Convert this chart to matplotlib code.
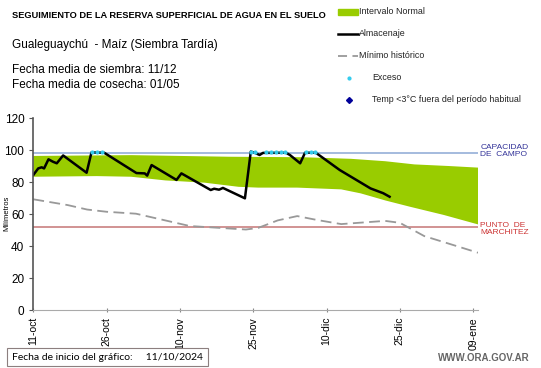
import matplotlib.pyplot as plt
from matplotlib.lines import Line2D
from matplotlib.patches import Rectangle

plt.rcParams['font.family'] = ['Liberation Sans', 'DejaVu Sans']

# datos (dias desde 11/10/2024)
band_upper_days = [0, 20, 40, 55, 65, 72, 78, 85, 91]
band_upper = [96.3, 96.8, 95.8, 95.5, 94.5, 93, 91, 90, 89]
band_lower_days = [0, 13, 20, 27, 35, 42, 46, 54, 63, 67, 72, 77, 84, 91]
band_lower = [83.3, 83.7, 83.3, 81, 79.6, 77, 76.5, 76.5, 75.4, 72.9, 68.5, 64.6, 59.4, 53.5]

alm_days = [0, 1, 1.7, 2.2, 3.1, 4, 4.8, 6.1, 10.9, 11.9, 14.5, 21.1, 22.8, 23.3, 24.2,
            29.3, 30.3, 36.3, 37, 38, 38.8, 43.3, 44.5, 45.3, 46.3, 47, 51.7, 52.5,
            54.6, 55.6, 57.8, 62.7, 69, 71.6, 72.9]
alm_vals = [84.4, 88.5, 89.2, 88.5, 94.2, 92.7, 91.7, 96.6, 85.8, 98.5, 98.3, 85.6, 85.4, 84, 90.6,
            81.3, 85.4, 75, 75.8, 75.2, 76.3, 69.8, 99, 98.3, 96.9, 98.2, 98.3, 96.9,
            91.7, 98.3, 98.3, 87.5, 76, 73, 70.8]

min_days = [0, 7, 11, 15, 21, 32, 43.5, 46, 50, 54, 58, 63, 67, 72, 75, 80, 87, 91]
min_vals = [69.2, 65.6, 62.8, 61.4, 60.2, 52.5, 50.3, 51.3, 56, 58.7, 56.3, 53.7, 54.6, 55.7,
            54.5, 46.2, 39.6, 35.8]

exc_days = [12, 13, 14, 44.6, 45.4, 47.6, 48.6, 49.6, 50.6, 51.6, 55.8, 56.8, 57.6]
exc_vals = [98.8] * len(exc_days)

cap_campo = 98
pto_marchitez = 52

tick_days = [0, 15, 30, 45, 60, 75, 90]
tick_labels = ['11-oct', '26-oct', '10-nov', '25-nov', '10-dic', '25-dic', '09-ene']

fig = plt.figure(figsize=(5.41, 3.68), dpi=100)
ax = fig.add_axes([0.0616, 0.1576, 0.822, 0.5217])

ax.fill(band_upper_days + band_lower_days[::-1], band_upper + band_lower[::-1],
        color='#99CC00', lw=0)
ax.axhline(cap_campo, color='#95AFD8', lw=1.2)
ax.axhline(pto_marchitez, color='#C98080', lw=1.2)
ax.plot(min_days, min_vals, color='#999999', lw=1.3, dashes=(6, 3))
ax.plot(alm_days, alm_vals, color='black', lw=1.8)
ax.plot(exc_days, exc_vals, ls='none', marker='o', ms=2, color='#33CCEE')

ax.set_xlim(0, 91)
ax.set_ylim(0, 120)
ax.set_yticks(range(0, 121, 20))
ax.set_xticks(tick_days)
ax.set_xticklabels(tick_labels, rotation=90, fontsize=7.5)
ax.tick_params(axis='y', labelsize=8.5, length=3, color='#555555')
ax.tick_params(axis='x', length=3, color='#888888', direction='inout')
for s in ['top', 'right']:
    ax.spines[s].set_visible(False)
ax.spines['left'].set_color('#555555')
ax.spines['left'].set_linewidth(1.2)
ax.spines['bottom'].set_color('#AAAAAA')

ax.text(91.5, cap_campo + 1.5, 'CAPACIDAD\nDE  CAMPO', color='#333399', fontsize=6,
        va='center', ha='left', linespacing=1.1)
ax.text(91.5, pto_marchitez - 1.5, 'PUNTO  DE\nMARCHITEZ', color='#CC3333', fontsize=6,
        va='center', ha='left', linespacing=1.1)

fig.text(7 / 541, 1 - 213 / 368, 'Milímetros', fontsize=5.5, rotation=90,
         ha='center', va='center')

# textos de cabecera
fig.text(12 / 541, 1 - 15 / 368, 'SEGUIMIENTO DE LA RESERVA SUPERFICIAL DE AGUA EN EL SUELO',
         fontsize=6.7, fontweight='bold', va='center')
fig.text(12 / 541, 1 - 45 / 368, 'Gualeguaychú  - Maíz (Siembra Tardía)', fontsize=8.5, va='center')
fig.text(12 / 541, 1 - 70 / 368, 'Fecha media de siembra: 11/12', fontsize=8.5, va='center')
fig.text(12 / 541, 1 - 85 / 368, 'Fecha media de cosecha: 01/05', fontsize=8.5, va='center')

# leyenda
ly = [12, 34, 56, 78, 100]
fig.patches.append(Rectangle((338 / 541, 1 - 15 / 368), 20 / 541, 6 / 368,
                             transform=fig.transFigure, color='#99CC00'))
fig.lines.append(Line2D([338 / 541, 358 / 541], [1 - ly[1] / 368] * 2, transform=fig.transFigure,
                        color='black', lw=1.8))
fig.lines.append(Line2D([338 / 541, 358 / 541], [1 - ly[2] / 368] * 2, transform=fig.transFigure,
                        color='#999999', lw=1.3, dashes=(5, 3)))
fig.lines.append(Line2D([349 / 541], [1 - ly[3] / 368], transform=fig.transFigure,
                        marker='o', ms=2, color='#33CCEE', ls='none'))
fig.lines.append(Line2D([349 / 541], [1 - ly[4] / 368], transform=fig.transFigure,
                        marker='D', ms=3, color='#000099', ls='none'))
leg_labels = ['Intervalo Normal', 'Almacenaje', 'Mínimo histórico', 'Exceso',
              'Temp <3°C fuera del período habitual']
leg_x = [359, 359, 359, 372, 372]
for lx, y, lab in zip(leg_x, ly, leg_labels):
    fig.text(lx / 541, 1 - y / 368, lab, fontsize=6.4, va='center', color='#222222')

# pie
fig.text(12 / 541, 1 - 357 / 368, 'Fecha de inicio del gráfico:     11/10/2024',
         fontsize=7.5, family=['Lato', 'DejaVu Sans'], va='center',
         bbox=dict(boxstyle='square,pad=0.45', fc='white', ec='#8C7F7F', lw=0.8))
fig.text(530 / 541, 1 - 358 / 368, 'WWW.ORA.GOV.AR', fontsize=7, color='#666666',
         fontweight='bold', ha='right', va='center')

fig.savefig('out.png', dpi=100)
